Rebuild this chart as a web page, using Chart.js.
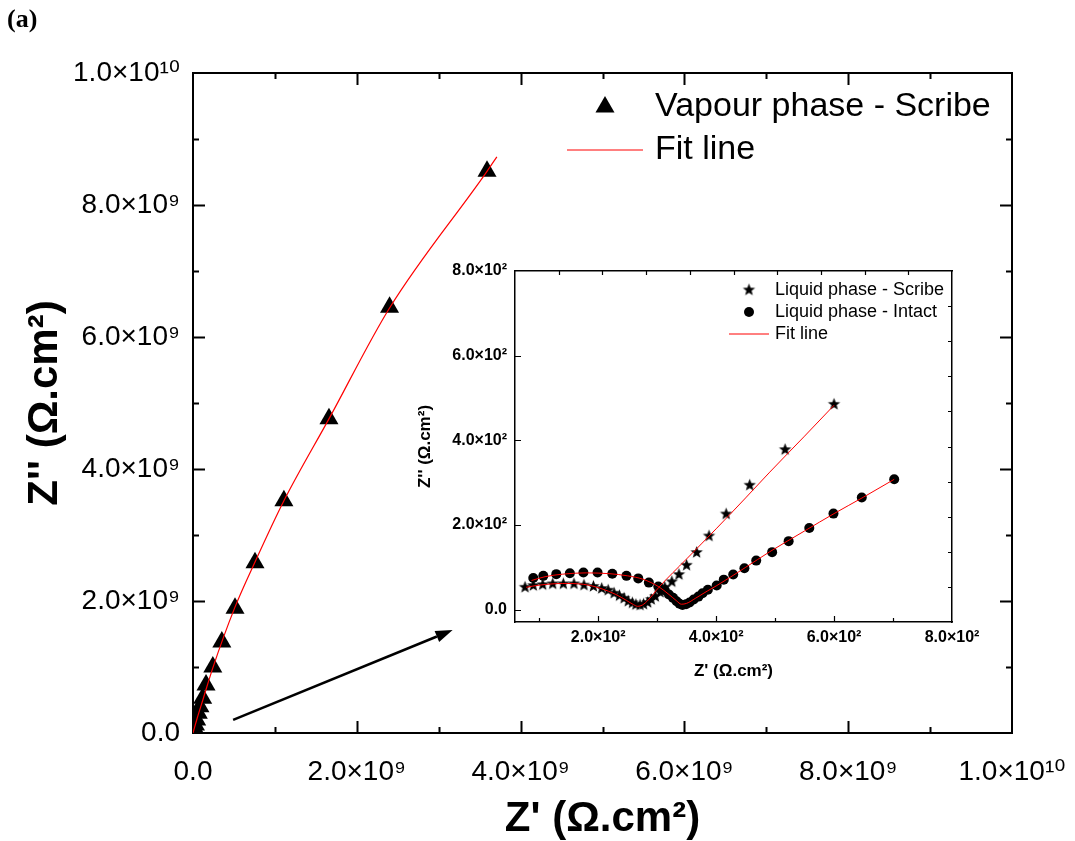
<!DOCTYPE html>
<html>
<head>
<meta charset="utf-8">
<title>Nyquist plot</title>
<script src="https://cdn.jsdelivr.net/npm/chart.js@4.4.0/dist/chart.umd.min.js"></script>
<style>
  body { margin: 0; background: #fff; }
  #wrap { position: relative; width: 1075px; height: 841px; }
  #mainChart { position: absolute; left: 0; top: 0; }
  #insetChart { position: absolute; left: 410px; top: 250px; }
  #panel { position: absolute; left: 7px; top: 4px; font: bold 26px "Liberation Serif", "Times New Roman", serif; }
</style>
</head>
<body>
<div id="wrap">
  <canvas id="mainChart" width="1075" height="841"></canvas>
  <canvas id="insetChart" width="590" height="450"></canvas>
  <div id="panel">(a)</div>
</div>
<script>
// vapour phase, scribed panel - Z' / Z'' in ohm.cm2
const vapourX = [3.59e9, 2.40e9, 1.66e9, 1.11e9, 0.757e9, 0.513e9, 0.352e9, 0.242e9, 0.159e9, 0.118e9, 0.085e9, 0.065e9, 0.045e9, 0.030e9, 0.020e9, 0.010e9]
const vapourY = [8.51e9, 6.45e9, 4.76e9, 3.52e9, 2.58e9, 1.89e9, 1.38e9, 1.00e9, 0.727e9, 0.526e9, 0.398e9, 0.298e9, 0.197e9, 0.12e9, 0.07e9, 0.03e9]
const vapourFitX = [0, 0.05e9, 0.12e9, 0.24e9, 0.51e9, 0.76e9, 1.11e9, 1.66e9, 2.40e9, 3.59e9, 3.71e9]
const vapourFitY = [0, 0.22e9, 0.50e9, 0.98e9, 1.90e9, 2.60e9, 3.52e9, 4.76e9, 6.44e9, 8.51e9, 8.73e9]

// liquid phase (inset)
const scribeX = [76, 90, 106, 123, 141, 159, 176, 192, 206, 217, 227, 236, 244, 251, 258, 264, 271, 277, 284, 290, 297, 305, 313, 325, 337, 350, 367, 388, 417, 457, 517, 600]
const scribeY = [53, 57, 59, 61, 61, 61, 58, 55, 50, 46, 39, 33, 27, 20, 16, 12, 11, 13, 17, 24, 31, 41, 53, 66, 83, 105, 135, 174, 226, 294, 378, 485]
const intactX = [90, 107, 129, 152, 175, 199, 224, 248, 268, 286, 302, 313, 320, 327, 333, 338, 343, 349, 355, 362, 370, 377, 386, 401, 413, 429, 448, 468, 495, 523, 558, 599, 647, 702]
const intactY = [75, 80, 84, 86, 88, 88, 85, 80, 74, 64, 55, 46, 36, 28, 20, 14, 11, 13, 17, 24, 31, 39, 47, 57, 71, 83, 98, 116, 136, 162, 193, 227, 265, 308]
const scribeFitX = [78, 100, 140, 175, 205, 230, 248, 260, 267, 275, 285, 303, 350, 400, 450, 491, 550, 600]
const scribeFitY = [53, 58, 62, 60, 50, 36, 22, 12, 8, 11, 23, 53, 120, 191, 264, 325, 410, 483]
const intactFitX = [87, 110, 140, 180, 220, 250, 276, 303, 320, 333, 341, 350, 365, 385, 400, 450, 491, 550, 600, 650, 702]
const intactFitY = [69, 78, 84, 87, 85, 80, 72, 54, 36, 21, 13, 15, 27, 44, 56, 100, 137, 186, 227, 266, 308]

// tick values
const mainTicks = [0, 2e9, 4e9, 6e9, 8e9, 1e10]
const insetXTicks = [200, 400, 600, 800]
const insetYTicks = [0, 200, 400, 600, 800]

// arrow from the origin region towards the inset (data units)
const arrowFrom = [0.49e9, 0.20e9]
const arrowTo = [3.17e9, 1.56e9]

const SUP = '⁰¹²³⁴⁵⁶⁷⁸⁹'
const FONT = '"Liberation Sans", Arial, "DejaVu Sans", sans-serif'

function sciLabel(v) {
  if (v === 0) return '0.0'
  const exp = Math.floor(Math.log10(Math.abs(v)) + 1e-9)
  const mant = (v / Math.pow(10, exp)).toFixed(1)
  return mant + '×10' + String(exp).split('').map(d => SUP[d]).join('')
}

function toPoints(xs, ys) {
  return xs.map((x, i) => ({x: x, y: ys[i]}))
}

function fixedTicks(values) {
  return function (scale) { scale.ticks = values.map(v => ({value: v})) }
}

// filled five point star used for the scribe markers
function makeStar(r) {
  const c = document.createElement('canvas')
  const s = Math.ceil(r * 2) + 2
  c.width = s; c.height = s
  const g = c.getContext('2d')
  g.fillStyle = '#000'
  g.beginPath()
  for (let k = 0; k < 10; k++) {
    const rad = k % 2 === 0 ? r : r * 0.42
    const a = -Math.PI / 2 + k * Math.PI / 5
    g.lineTo(s / 2 + rad * Math.cos(a), s / 2 + rad * Math.sin(a))
  }
  g.closePath()
  g.fill()
  return c
}
const starImg = makeStar(6.5)

// ticks pointing into the plot, on every side
const insideTicks = {
  id: 'insideTicks',
  afterDraw(chart, args, opts) {
    const ctx = chart.ctx
    const area = chart.chartArea
    ctx.save()
    ctx.strokeStyle = '#000'
    ctx.lineWidth = opts.width
    ctx.beginPath()
    opts.axes.forEach(a => {
      const scale = chart.scales[a.id]
      const first = Math.ceil(scale.min / a.minor - 1e-6)
      const last = Math.floor(scale.max / a.minor + 1e-6)
      for (let i = first; i <= last; i++) {
        const v = i * a.minor
        if (Math.abs(v - scale.min) < a.minor * 1e-6 || Math.abs(v - scale.max) < a.minor * 1e-6) continue
        const major = a.major && Math.abs(v / a.major - Math.round(v / a.major)) < 1e-6
        const len = major ? opts.majorLen : opts.minorLen
        const p = Math.round(scale.getPixelForValue(v)) + 0.5
        if (scale.position === 'bottom') { ctx.moveTo(p, area.bottom); ctx.lineTo(p, area.bottom - len) }
        if (scale.position === 'top') { ctx.moveTo(p, area.top); ctx.lineTo(p, area.top + len) }
        if (scale.position === 'left') { ctx.moveTo(area.left, p); ctx.lineTo(area.left + len, p) }
        if (scale.position === 'right') { ctx.moveTo(area.right, p); ctx.lineTo(area.right - len, p) }
      }
    })
    ctx.stroke()
    ctx.restore()
  }
}

function drawSymbol(ctx, kind, x, y, size, lineFrom) {
  ctx.fillStyle = '#000'
  if (kind === 'triangle') {
    ctx.beginPath()
    for (let k = 0; k < 3; k++) {
      const a = -Math.PI / 2 + k * 2 * Math.PI / 3
      ctx.lineTo(x + size * Math.cos(a), y + size * Math.sin(a))
    }
    ctx.closePath(); ctx.fill()
  } else if (kind === 'circle') {
    ctx.beginPath(); ctx.arc(x, y, size, 0, Math.PI * 2); ctx.fill()
  } else if (kind === 'star') {
    ctx.drawImage(starImg, x - starImg.width / 2, y - starImg.height / 2)
  } else if (kind === 'line') {
    ctx.strokeStyle = '#ff0000'
    ctx.lineWidth = 1
    ctx.beginPath(); ctx.moveTo(lineFrom[0], y); ctx.lineTo(lineFrom[1], y); ctx.stroke()
  }
}

// legend drawn inside the plot, labels come from the datasets
const boxLegend = {
  id: 'boxLegend',
  afterDraw(chart, args, opts) {
    const ctx = chart.ctx
    ctx.save()
    ctx.font = opts.font
    ctx.textBaseline = 'middle'
    opts.items.forEach((item, i) => {
      const y = opts.top + i * opts.rowHeight
      drawSymbol(ctx, item.kind, opts.symbolX, y, opts.symbolSize, opts.line)
      ctx.fillStyle = '#000'
      ctx.fillText(chart.data.datasets[item.dataset].label, opts.textX, y)
    })
    ctx.restore()
  }
}

const arrowPlugin = {
  id: 'arrow',
  afterDraw(chart) {
    const xs = chart.scales.x, ys = chart.scales.y
    const x0 = xs.getPixelForValue(arrowFrom[0]), y0 = ys.getPixelForValue(arrowFrom[1])
    const x1 = xs.getPixelForValue(arrowTo[0]), y1 = ys.getPixelForValue(arrowTo[1])
    const ang = Math.atan2(y1 - y0, x1 - x0)
    const head = 17, half = 6
    const ctx = chart.ctx
    ctx.save()
    ctx.strokeStyle = '#000'; ctx.fillStyle = '#000'; ctx.lineWidth = 2.5
    ctx.beginPath()
    ctx.moveTo(x0, y0)
    ctx.lineTo(x1 - head * Math.cos(ang), y1 - head * Math.sin(ang))
    ctx.stroke()
    ctx.beginPath()
    ctx.moveTo(x1, y1)
    ctx.lineTo(x1 - head * Math.cos(ang) + half * Math.sin(ang), y1 - head * Math.sin(ang) - half * Math.cos(ang))
    ctx.lineTo(x1 - head * Math.cos(ang) - half * Math.sin(ang), y1 - head * Math.sin(ang) + half * Math.cos(ang))
    ctx.closePath(); ctx.fill()
    ctx.restore()
  }
}

// axis with a fixed box size; label overhang must not shrink the plot area
function axis(position, opts) {
  const a = {
    type: 'linear',
    position: position,
    min: opts.min, max: opts.max,
    grid: {display: false, drawTicks: false},
    border: {display: true, color: '#000', width: opts.border},
    ticks: {display: !!opts.ticks, color: '#000', font: opts.tickFont, padding: opts.pad || 0, callback: v => sciLabel(v)},
    afterFit: s => {
      if (s.isHorizontal()) s.height = opts.size
      else s.width = opts.size
      s.paddingLeft = 0; s.paddingRight = 0; s.paddingTop = 0; s.paddingBottom = 0
    }
  }
  if (opts.ticks) a.afterBuildTicks = fixedTicks(opts.ticks)
  if (opts.title) a.title = {display: true, text: opts.title, color: '#000', font: opts.titleFont, padding: opts.titlePad}
  if (opts.axis) a.axis = opts.axis
  return a
}

function drawMain() {
  const tickFont = {family: FONT, size: 28}
  const titleFont = {family: FONT, size: 42, weight: 'bold', lineHeight: 1}
  new Chart(document.getElementById('mainChart'), {
    type: 'scatter',
    data: {
      datasets: [{
        label: 'Vapour phase - Scribe',
        data: toPoints(vapourX, vapourY),
        pointStyle: 'triangle',
        pointRadius: 11,
        pointBackgroundColor: '#000',
        pointBorderWidth: 0,
        order: 2
      }, {
        label: 'Fit line',
        data: toPoints(vapourFitX, vapourFitY),
        showLine: true,
        pointRadius: 0,
        borderColor: '#ff0000',
        borderWidth: 1.2,
        cubicInterpolationMode: 'monotone',
        order: 1
      }]
    },
    options: {
      responsive: false,
      animation: false,
      layout: {padding: 0},
      plugins: {
        legend: {display: false},
        tooltip: {enabled: false},
        insideTicks: {
          width: 2, majorLen: 12, minorLen: 6,
          axes: [{id: 'x', major: 2e9, minor: 1e9}, {id: 'x2', major: 2e9, minor: 1e9},
                 {id: 'y', major: 2e9, minor: 1e9}, {id: 'y2', major: 2e9, minor: 1e9}]
        },
        boxLegend: {
          font: '34px ' + FONT, top: 107, rowHeight: 43, symbolX: 605, symbolSize: 11,
          textX: 655, line: [567, 643],
          items: [{kind: 'triangle', dataset: 0}, {kind: 'line', dataset: 1}]
        }
      },
      scales: {
        x: axis('bottom', {min: 0, max: 1e10, border: 2, ticks: mainTicks, tickFont: tickFont, pad: 22,
          title: "Z' (Ω.cm²)", titleFont: titleFont, titlePad: {bottom: 1}, size: 108}),
        x2: axis('top', {min: 0, max: 1e10, border: 2, axis: 'x', size: 73}),
        y: axis('left', {min: 0, max: 1e10, border: 2, ticks: mainTicks, tickFont: tickFont, pad: 13,
          title: "Z'' (Ω.cm²)", titleFont: titleFont, titlePad: {top: 24}, size: 193}),
        y2: axis('right', {min: 0, max: 1e10, border: 2, axis: 'y', size: 63})
      }
    },
    plugins: [insideTicks, boxLegend, arrowPlugin]
  })
}

function drawInset() {
  const tickFont = {family: FONT, size: 16, weight: 'bold'}
  const titleFont = {family: FONT, size: 17, weight: 'bold', lineHeight: 1}
  new Chart(document.getElementById('insetChart'), {
    type: 'scatter',
    data: {
      datasets: [{
        label: 'Liquid phase - Scribe',
        data: toPoints(scribeX, scribeY),
        pointStyle: starImg,
        order: 3
      }, {
        label: 'Liquid phase - Intact',
        data: toPoints(intactX, intactY),
        pointStyle: 'circle',
        pointRadius: 5,
        pointBackgroundColor: '#000',
        pointBorderWidth: 0,
        order: 3
      }, {
        label: 'Fit line',
        data: toPoints(scribeFitX, scribeFitY),
        showLine: true, pointRadius: 0,
        borderColor: '#ff0000', borderWidth: 1,
        cubicInterpolationMode: 'monotone',
        order: 1
      }, {
        label: 'Fit line',
        data: toPoints(intactFitX, intactFitY),
        showLine: true, pointRadius: 0,
        borderColor: '#ff0000', borderWidth: 1,
        cubicInterpolationMode: 'monotone',
        order: 1
      }]
    },
    options: {
      responsive: false,
      animation: false,
      layout: {padding: 0},
      plugins: {
        legend: {display: false},
        tooltip: {enabled: false},
        insideTicks: {
          width: 1.2, majorLen: 6, minorLen: 4,
          axes: [{id: 'x', major: 200, minor: 100}, {id: 'x2', minor: 1},
                 {id: 'y', major: 200, minor: 200}, {id: 'y2', minor: 1}]
        },
        boxLegend: {
          font: '18px ' + FONT, top: 40, rowHeight: 22, symbolX: 339, symbolSize: 5,
          textX: 365, line: [319, 359],
          items: [{kind: 'star', dataset: 0}, {kind: 'circle', dataset: 1}, {kind: 'line', dataset: 2}]
        }
      },
      scales: {
        x: axis('bottom', {min: 59, max: 800, border: 1.5, ticks: insetXTicks, tickFont: tickFont, pad: 6,
          title: "Z' (Ω.cm²)", titleFont: titleFont, titlePad: {bottom: 20}, size: 78}),
        x2: axis('top', {min: 0, max: 10, border: 1.5, axis: 'x', size: 21}),
        y: axis('left', {min: -29, max: 800, border: 1.5, ticks: insetYTicks, tickFont: tickFont, pad: 8,
          title: "Z'' (Ω.cm²)", titleFont: titleFont, titlePad: {top: 7}, size: 105}),
        y2: axis('right', {min: 0, max: 10, border: 1.5, axis: 'y', size: 48})
      }
    },
    plugins: [insideTicks, boxLegend]
  })
}

drawMain()
drawInset()
</script>
</body>
</html>
